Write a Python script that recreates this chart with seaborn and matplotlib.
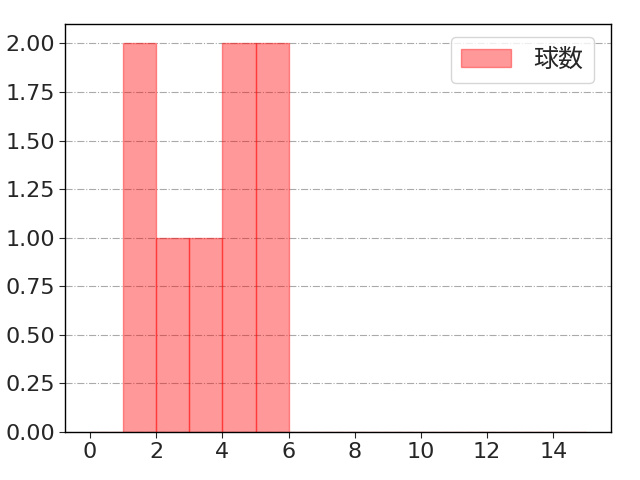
import matplotlib
matplotlib.use("Agg")
import matplotlib.pyplot as plt
import seaborn as sns
import pandas as pd

# pitch count values (one entry per observation)
values = [1, 1, 2, 3, 4, 4, 5, 5]
bin_edges = list(range(0, 16))
label = "球数"

sns.set_style("white")
plt.rcParams['font.family'] = ['DejaVu Sans', 'Noto Sans CJK JP']

df = pd.DataFrame({label: values})

fig, ax = plt.subplots(figsize=(6.4, 4.8), dpi=100)
sns.histplot(data=df, x=label, bins=bin_edges, color="red", alpha=0.4,
             edgecolor="red", linewidth=1, label=label, ax=ax)
# let the edges share the bar transparency
for p in ax.patches:
    p.set_edgecolor((1, 0, 0, 0.4))

ax.set_xlabel("")
ax.set_ylabel("")
ax.yaxis.set_major_formatter(matplotlib.ticker.FormatStrFormatter('%.2f'))
ax.set_yticks([0, 0.25, 0.5, 0.75, 1.0, 1.25, 1.5, 1.75, 2.0])
ax.set_xticks(range(0, 16, 2))
ax.tick_params(labelsize=16, length=4, left=True, bottom=True)
ax.grid(axis="y", linestyle="-.", color="#aaaaaa", linewidth=0.8)
ax.set_axisbelow(True)
for s in ax.spines.values():
    s.set_color("black")
    s.set_linewidth(1)
leg = ax.legend(loc="upper right", bbox_to_anchor=(1.0, 1.012),
                prop={'family': ['Noto Sans CJK JP'], 'size': 18},
                borderpad=0.4, borderaxespad=0.7, handletextpad=0.9)
for h in leg.legend_handles:
    h.set_edgecolor((1, 0, 0, 0.4))

plt.subplots_adjust(left=0.102, right=0.955, top=0.95, bottom=0.1)
plt.savefig("out.png")
